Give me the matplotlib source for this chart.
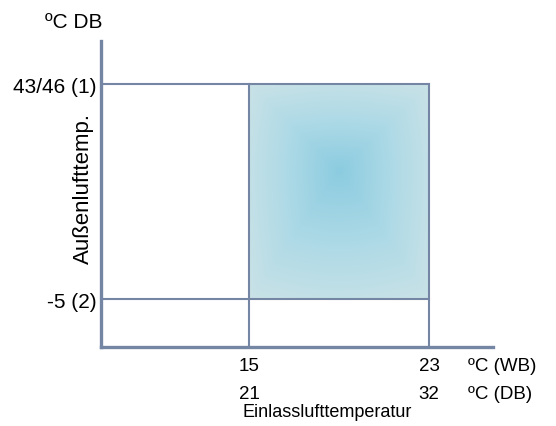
import numpy as np
import matplotlib
matplotlib.use("Agg")
import matplotlib.pyplot as plt
from matplotlib.colors import LinearSegmentedColormap

# operating range
wb_limits = [15, 23]          # inlet air, wet bulb
db_limits = [21, 32]          # inlet air, dry bulb
outdoor_limits = [-5, 43]     # outdoor air, dry bulb
outdoor_labels = ["-5 (2)", "43/46 (1)"]

plt.rcParams["font.family"] = ["Liberation Sans", "DejaVu Sans"]
axis_color = "#7586a4"
fs = 13.5
fs_left = 15

W, H = 556, 427
fig = plt.figure(figsize=(W / 100, H / 100), dpi=100)
ax = fig.add_axes([101 / W, 79 / H, 392 / W, 306 / H])
ax.set_xlim(8.42, 25.84)
ax.set_ylim(-15.72, 52.6)


def px(x, y):
    # pixel position -> figure fraction
    return x / W, 1 - y / H


# shaded operating area with a soft gradient from the middle
x0, x1 = wb_limits
y0, y1 = outdoor_limits
gx, gy = np.meshgrid(np.linspace(0, 1, 200), np.linspace(0, 1, 200))
cx, cy = 0.5, 0.6
dx = np.where(gx < cx, (cx - gx) / cx, (gx - cx) / (1 - cx))
dy = np.where(gy < cy, (cy - gy) / cy, (gy - cy) / (1 - cy))
d = np.clip(0.65 * np.maximum(dx, dy) + 0.35 * np.hypot(dx, dy) / 1.4, 0, 1)
cmap = LinearSegmentedColormap.from_list("blue", ["#8ccce0", "#acd9e6", "#c9e2e7"])
ax.imshow(d, cmap=cmap, extent=[x0, x1, y0, y1], origin="lower",
          aspect="auto", interpolation="bilinear", zorder=1)

# range lines
for y in outdoor_limits:
    ax.plot([ax.get_xlim()[0], x1], [y, y], color=axis_color, lw=1.5, zorder=2)
for x in wb_limits:
    ax.plot([x, x], [ax.get_ylim()[0], y1], color=axis_color, lw=1.5, zorder=2)

for s in ["top", "right"]:
    ax.spines[s].set_visible(False)
for s in ["left", "bottom"]:
    ax.spines[s].set_color(axis_color)
    ax.spines[s].set_linewidth(2.4)
ax.set_xticks([])
ax.set_yticks([])

# y labels
for y, lab in zip(outdoor_limits, outdoor_labels):
    ax.annotate(lab, xy=(ax.get_xlim()[0], y), xytext=(-3, -5.5),
                textcoords="offset points", ha="right", va="baseline",
                fontsize=fs_left)

fig.text(*px(83, 188), "Außenlufttemp.", rotation=90, ha="center", va="center",
         fontsize=16)
fig.text(*px(74, 27.5), "ºC DB", ha="center", va="baseline", fontsize=fs_left)

# x labels
for wb, db in zip(wb_limits, db_limits):
    xf = ax.transData.transform((wb, 0))[0] / W
    fig.text(xf, 1 - 371 / H, str(wb), ha="center", va="baseline", fontsize=fs)
    fig.text(xf, 1 - 399 / H, str(db), ha="center", va="baseline", fontsize=fs)
fig.text(*px(468, 371), "ºC (WB)", ha="left", va="baseline", fontsize=fs)
fig.text(*px(468, 399), "ºC (DB)", ha="left", va="baseline", fontsize=fs)
fig.text(*px(327, 417), "Einlasslufttemperatur", ha="center",
         va="baseline", fontsize=13)

fig.savefig("out.png", dpi=100)
